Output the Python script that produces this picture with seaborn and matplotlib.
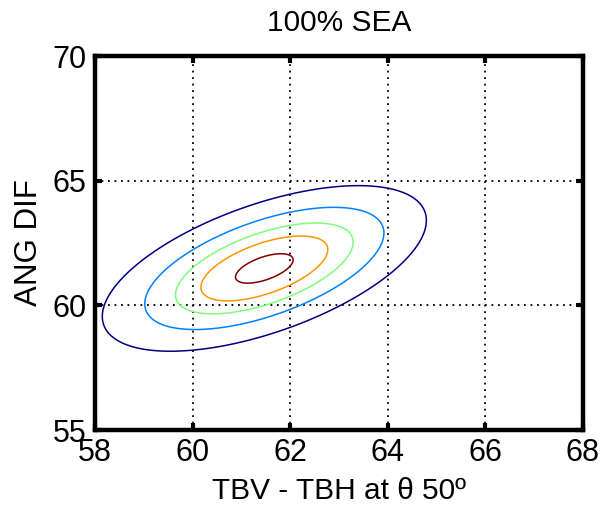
import numpy as np
import matplotlib
matplotlib.use("Agg")
import matplotlib.pyplot as plt
import seaborn as sns

# Bivariate distribution of the brightness-temperature difference vs angular difference
center_x = 61.47          # TBV - TBH at 50 deg
center_y = 61.48          # angular difference
sigma_x = 1.0
sigma_y = 1.0
correlation = 0.58
# Mahalanobis radii of the drawn contours, outer to inner
contour_radii = [3.32, 2.45, 1.82, 1.3, 0.59]

x_ticks = [58, 60, 62, 64, 66, 68]
y_ticks = [55, 60, 65, 70]

sns.set_style("white")
plt.rcParams["font.family"] = ["Liberation Sans", "DejaVu Sans"]
plt.rcParams["text.color"] = "black"
plt.rcParams["axes.labelcolor"] = "black"
plt.rcParams["xtick.color"] = "black"
plt.rcParams["ytick.color"] = "black"

# density field on a regular grid
gx = np.linspace(56, 70, 500)
gy = np.linspace(53, 72, 500)
X, Y = np.meshgrid(gx, gy)
u = (X - center_x) / sigma_x
v = (Y - center_y) / sigma_y
q = (u**2 - 2 * correlation * u * v + v**2) / (1 - correlation**2)
Z = np.exp(-0.5 * q)

levels = sorted(np.exp(-0.5 * np.array(contour_radii) ** 2))
colors = [plt.cm.jet(t) for t in np.linspace(0, 1, len(levels))]

fig = plt.figure(figsize=(6.02, 5.12), dpi=100)
ax = fig.add_axes([95 / 602, 1 - 430 / 512, (583 - 95) / 602, (430 - 56) / 512])

ax.contour(X, Y, Z, levels=levels, colors=colors, linewidths=1.1)

ax.set_xlim(58, 68)
ax.set_ylim(55, 70)
ax.set_xticks(x_ticks)
ax.set_yticks(y_ticks)

# dotted grid at interior ticks only
for xv in x_ticks[1:-1]:
    ax.axvline(xv, color="black", linestyle=(0, (1, 2.6)), linewidth=1.3, zorder=0)
for yv in y_ticks[1:-1]:
    ax.axhline(yv, color="black", linestyle=(0, (1, 2.6)), linewidth=1.3, zorder=0)

for sp in ax.spines.values():
    sp.set_linewidth(3.2)
    sp.set_color("black")
    sp.set_visible(True)

ax.tick_params(direction="in", length=5, width=3, labelsize=22, pad=6,
               top=True, right=True, bottom=True, left=True,
               labeltop=False, labelright=False)

ax.set_title("100% SEA", fontsize=21.5, pad=18)
ax.set_xlabel("TBV - TBH at \u03b8 50\u00ba", fontsize=21.5, labelpad=6)
ax.set_ylabel("ANG DIF", fontsize=22.5, labelpad=6)

fig.savefig("out.png", dpi=100)
